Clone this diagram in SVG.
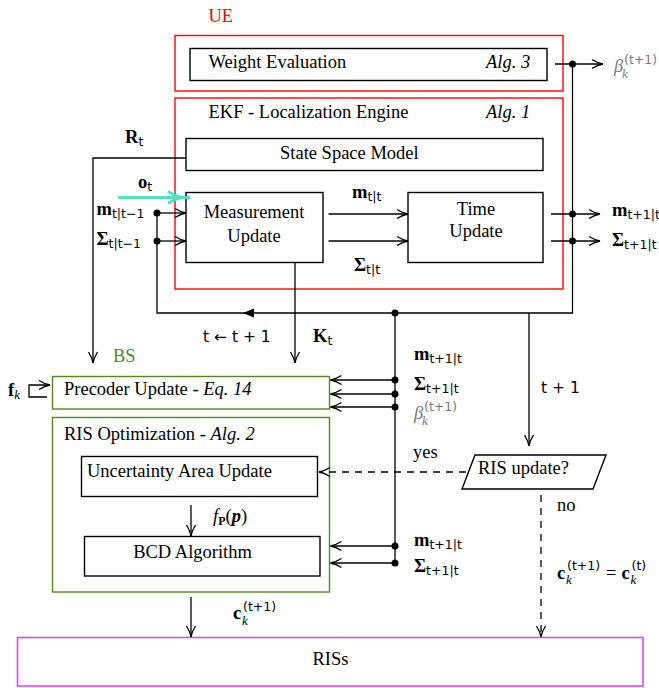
<svg xmlns="http://www.w3.org/2000/svg" width="659" height="688" viewBox="0 0 659 688">
<defs>
<style>
.t{font-family:"Liberation Serif","Times New Roman",serif;font-size:18.5px;fill:#000}
.i{font-style:italic}
.b{font-weight:bold}
.s{font-family:"DejaVu Sans",sans-serif;font-size:12.5px;font-weight:normal;font-style:normal}
.ss{font-family:"DejaVu Sans",sans-serif;font-size:15.5px;fill:#000}
.box{fill:#fff;stroke:#000;stroke-width:1.4}
.red{fill:#fff;stroke:#f00;stroke-width:1.4}
.grn{fill:#fff;stroke:#4e8a1c;stroke-width:1.4}
.mag{fill:#fff;stroke:#d24fe6;stroke-width:1.6}
.ln{fill:none;stroke:#000;stroke-width:1.3}
.arr{marker-end:url(#ah)}
.dash{stroke-dasharray:7 6}
.dot{fill:#000}
.grey{fill:#7a7a7a}
</style>
<marker id="ah" viewBox="-13 -7 15 14" refX="0" refY="0" markerWidth="15" markerHeight="14" markerUnits="userSpaceOnUse" orient="auto" overflow="visible">
<path d="M-11,-4.5 Q-5,-0.8 0,0 Q-5,0.8 -11,4.5" fill="none" stroke="#000" stroke-width="1.3"/>
</marker>
</defs>

<g id="ue">
<text class="t" x="208.5" y="22" fill="#f00" style="fill:#f00">UE</text>
<rect class="red" x="175" y="35.5" width="388" height="55.5"/>
</g>
<g id="weight-evaluation">
<rect class="box" x="190" y="48.5" width="357" height="32"/>
<text class="t" x="208.5" y="68">Weight Evaluation</text>
<text class="t i" x="486" y="68">Alg. 3</text>
</g>
<g id="ekf">
<rect class="red" x="175" y="98" width="388" height="191"/>
<text class="t" x="208.5" y="118">EKF - Localization Engine</text>
<text class="t i" x="486" y="118">Alg. 1</text>
</g>
<g id="state-space-model">
<rect class="box" x="186" y="138.5" width="357" height="32"/>
<text class="t" x="280" y="158.5">State Space Model</text>
</g>
<g id="measurement-update">
<rect class="box" x="186" y="192.5" width="137" height="70"/>
<text class="t" x="254" y="218" text-anchor="middle">Measurement</text>
<text class="t" x="254" y="242" text-anchor="middle">Update</text>
</g>
<g id="time-update">
<rect class="box" x="408" y="192.5" width="135" height="70"/>
<text class="t" x="476" y="215" text-anchor="middle">Time</text>
<text class="t" x="476" y="237" text-anchor="middle">Update</text>
</g>
<g id="bs">
<text class="t" x="113" y="362" style="fill:#4e8a1c">BS</text>
</g>
<g id="precoder-update">
<rect class="grn" x="52.5" y="376.5" width="277" height="32.5"/>
<text class="t" x="64" y="395">Precoder Update - <tspan class="i">Eq. 14</tspan></text>
</g>
<g id="ris-optimization">
<rect class="grn" x="52.5" y="417.5" width="277" height="174.5"/>
<text class="t" x="64" y="440">RIS Optimization - <tspan class="i">Alg. 2</tspan></text>
</g>
<g id="uncertainty-area-update">
<rect class="box" x="81.5" y="456.5" width="236" height="40"/>
<text class="t" x="87" y="477">Uncertainty Area Update</text>
</g>
<g id="bcd-algorithm">
<rect class="box" x="84.5" y="536.5" width="235.5" height="39.5"/>
<text class="t" x="192.5" y="558" text-anchor="middle">BCD Algorithm</text>
</g>
<g id="ris-update">
<polygon class="box" points="475,455 606,455 593,489 462,489"/>
<text class="t" x="478" y="474">RIS update?</text>
</g>
<g id="riss">
<rect class="mag" x="17.5" y="637.5" width="625.5" height="48.5"/>
<text class="t" x="330.5" y="665" text-anchor="middle">RISs</text>
</g>

<g id="connectors">
<path class="ln arr" d="M555,64 H603"/>
<path class="ln" d="M572.5,64 V313 H157 V213"/>
<polygon points="243,313 254,308.5 254,317.5" fill="#000"/>
<path class="ln arr" d="M157,213 H186"/>
<path class="ln arr" d="M157,241 H186"/>
<path d="M118,197.5 H190" fill="none" stroke="#4fe3c4" stroke-width="3"/>
<path d="M168,191.5 Q176,196.5 182,197.5 Q176,198.5 168,203.5" fill="none" stroke="#4fe3c4" stroke-width="3"/>
<path class="ln arr" d="M551,214 H600"/>
<path class="ln arr" d="M551,241 H600"/>
<path class="ln arr" d="M328.5,214 H408"/>
<path class="ln arr" d="M328.5,241 H408"/>
<path class="ln arr" d="M186,158 H93 V363"/>
<path class="ln arr" d="M295,262.5 V363"/>
<path class="ln" d="M395,313 V563"/>
<path class="ln arr" d="M395,380 H330.5"/>
<path class="ln arr" d="M395,394 H330.5"/>
<path class="ln arr" d="M395,407 H330.5"/>
<path class="ln arr" d="M395,546 H330.5"/>
<path class="ln arr" d="M395,563 H330.5"/>
<path class="ln arr" d="M529,313 V446"/>
<path class="ln arr dash" d="M466,472 H319"/>
<path class="ln arr dash" d="M541,495 V637"/>
<path class="ln arr" d="M191,505 V536"/>
<path class="ln arr" d="M191,597 V637"/>
<path class="ln arr" d="M47,397 H29 V385 H50"/>
<circle class="dot" cx="572.5" cy="64" r="3.5"/>
<circle class="dot" cx="572.5" cy="214" r="3.5"/>
<circle class="dot" cx="572.5" cy="241" r="3.5"/>
<circle class="dot" cx="157" cy="213" r="3.5"/>
<circle class="dot" cx="157" cy="241" r="3.5"/>
<circle class="dot" cx="395" cy="313" r="3.5"/>
<circle class="dot" cx="395" cy="380" r="3.5"/>
<circle class="dot" cx="395" cy="394" r="3.5"/>
<circle class="dot" cx="395" cy="407" r="3.5"/>
<circle class="dot" cx="395" cy="546" r="3.5"/>
<circle class="dot" cx="395" cy="563" r="3.5"/>
</g>

<g id="labels">
<text class="t grey i" x="614" y="72">β<tspan class="s" x="624" y="64">(t+1)</tspan><tspan class="i" font-size="13" x="622" y="77.5">k</tspan></text>
<text class="t b" x="125" y="143">R<tspan class="s" dy="2.5">t</tspan></text>
<text class="t b" x="138" y="188">o<tspan class="s" dy="2.5">t</tspan></text>
<text class="t b" x="96.5" y="215">m<tspan class="s" dy="3">t|t−1</tspan></text>
<text class="t b" x="96.5" y="245">Σ<tspan class="s" dy="3">t|t−1</tspan></text>
<text class="t b" x="352" y="198">m<tspan class="s" dy="3">t|t</tspan></text>
<text class="t b" x="354" y="271">Σ<tspan class="s" dy="3">t|t</tspan></text>
<text class="t b" x="612" y="216">m<tspan class="s" dy="3">t+1|t</tspan></text>
<text class="t b" x="612" y="246">Σ<tspan class="s" dy="3">t+1|t</tspan></text>
<text class="ss" x="203" y="342">t ← t + 1</text>
<text class="t b" x="313" y="342">K<tspan class="s" dy="2.5">t</tspan></text>
<text class="t b" x="414" y="360">m<tspan class="s" dy="3">t+1|t</tspan></text>
<text class="t b" x="414" y="390">Σ<tspan class="s" dy="3">t+1|t</tspan></text>
<text class="t grey i" x="414" y="419">β<tspan class="s" x="424" y="411">(t+1)</tspan><tspan class="i" font-size="13" x="422" y="424.5">k</tspan></text>
<text class="ss" x="541" y="393">t + 1</text>
<text class="t b" x="8" y="396">f<tspan class="i" font-weight="normal" font-size="13" dy="3">k</tspan></text>
<text class="t" x="413" y="458">yes</text>
<text class="t" x="557" y="511">no</text>
<text class="t" x="213" y="522"><tspan class="i">f</tspan><tspan class="b" font-size="12" dy="3">P</tspan><tspan dy="-3">(</tspan><tspan class="b i">p</tspan>)</text>
<text class="t b" x="414" y="546">m<tspan class="s" dy="3">t+1|t</tspan></text>
<text class="t b" x="414" y="572">Σ<tspan class="s" dy="3">t+1|t</tspan></text>
<text class="t b" x="557" y="579">c<tspan class="s" x="567" y="570">(t+1)</tspan><tspan class="i" font-weight="normal" font-size="13" x="566" y="583.5">k</tspan><tspan font-weight="normal" x="606" y="579">=</tspan><tspan x="621.5" y="579">c</tspan><tspan class="s" x="631.5" y="570">(t)</tspan><tspan class="i" font-weight="normal" font-size="13" x="630.5" y="583.5">k</tspan></text>
<text class="t b" x="233" y="619">c<tspan class="s" x="243" y="611">(t+1)</tspan><tspan class="i" font-weight="normal" font-size="13" x="242" y="625">k</tspan></text>
</g>
</svg>
